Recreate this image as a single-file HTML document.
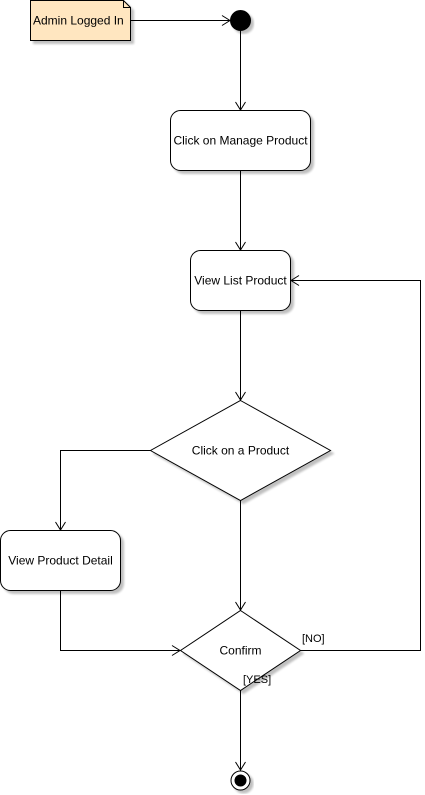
<!DOCTYPE html>
<html><head><style>html,body{margin:0;padding:0;background:#fff;}svg{display:block}text{font-family:"Liberation Sans",Arial,sans-serif;font-size:12px;fill:#000}</style></head>
<body>
<svg width="425" height="795" viewBox="0 0 425 795" xmlns="http://www.w3.org/2000/svg">
<defs><filter id="s" x="-10%" y="-10%" width="130%" height="130%"><feOffset dx="3" dy="3" in="SourceAlpha"/><feGaussianBlur stdDeviation="1"/><feComponentTransfer><feFuncA type="linear" slope="0.25"/></feComponentTransfer><feMerge><feMergeNode/><feMergeNode in="SourceGraphic"/></feMerge></filter></defs>
<g stroke="#000" stroke-width="1" fill="none">
<!-- note -->
<path d="M30.5 0.5 H123.5 L130.5 7.5 V40.5 H30.5 Z" fill="#ffe6c0" filter="url(#s)"/>
<path d="M123.5 0.5 V7.5 H130.5"/>
<line x1="130.5" y1="20.5" x2="230" y2="20.5"/><path d="M222 15.5 L230 20.5 L222 25.5"/>
<circle cx="240.5" cy="20.5" r="10" fill="#000" filter="url(#s)"/>
<line x1="240.5" y1="30" x2="240.5" y2="110"/><path d="M235.5 102 L240.5 110 L245.5 102"/>
<rect x="170.5" y="110.5" width="140" height="60" rx="10" fill="#fff" filter="url(#s)"/>
<line x1="240.5" y1="170.5" x2="240.5" y2="250"/><path d="M235.5 242 L240.5 250 L245.5 242"/>
<rect x="190.5" y="250.5" width="100" height="60" rx="10" fill="#fff" filter="url(#s)"/>
<line x1="240.5" y1="310.5" x2="240.5" y2="400"/><path d="M235.5 392 L240.5 400 L245.5 392"/>
<path d="M240.5 400.5 L330.5 450.5 L240.5 500.5 L150.5 450.5 Z" fill="#fff" filter="url(#s)"/>
<path d="M150.5 450.5 H60.5 V530"/><path d="M55.5 522 L60.5 530 L65.5 522"/>
<rect x="0.5" y="530.5" width="120" height="60" rx="10" fill="#fff" filter="url(#s)"/>
<line x1="240.5" y1="500.5" x2="240.5" y2="610"/><path d="M235.5 602 L240.5 610 L245.5 602"/>
<path d="M60.5 590.5 V650.5 H180"/><path d="M172 645.5 L180 650.5 L172 655.5"/>
<path d="M240.5 610.5 L300.5 650.5 L240.5 690.5 L180.5 650.5 Z" fill="#fff" filter="url(#s)"/>
<path d="M300.5 650.5 H420.5 V280.5 H291"/><path d="M299 275.5 L291 280.5 L299 285.5"/>
<line x1="240.5" y1="690.5" x2="240.5" y2="770"/><path d="M235.5 762 L240.5 770 L245.5 762"/>
<circle cx="240.5" cy="780.5" r="9.5" fill="#fff" filter="url(#s)"/>
<circle cx="240.5" cy="780.5" r="6" fill="#000" stroke="none"/>
</g>
<text x="33" y="24.5">Admin Logged In</text>
<text x="240.5" y="144.5" text-anchor="middle">Click on Manage Product</text>
<text x="240.5" y="284.5" text-anchor="middle">View List Product</text>
<text x="240.5" y="454.5" text-anchor="middle">Click on a Product</text>
<text x="60.5" y="564.5" text-anchor="middle">View Product Detail</text>
<text x="240.5" y="654.5" text-anchor="middle">Confirm</text>
<text x="302" y="642" style="font-size:11px">[NO]</text>
<text x="243" y="683" style="font-size:11px">[YES]</text>
</svg>
</body></html>
